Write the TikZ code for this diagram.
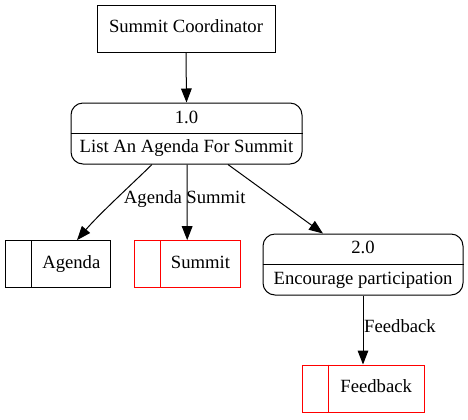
\documentclass[tikz,border=0pt]{standalone}
\usepackage{fontspec}
\setmainfont{Liberation Serif}
\usetikzlibrary{arrows.meta}
\begin{document}
\begin{tikzpicture}[x=0.75pt,y=-0.75pt,
  font=\fontsize{14}{16}\selectfont,
  ent/.style={draw, line width=0.75pt, minimum width=133.5pt, minimum height=35.25pt, inner sep=0pt},
  proc/.style={draw, rounded corners=9pt, line width=0.75pt, minimum height=45.75pt, inner sep=0pt},
  store/.style={draw, line width=0.75pt, minimum height=35.5pt, inner sep=0pt},
  flow/.style={-{Triangle[length=10.5pt,width=8pt]}, line width=0.75pt},
  lbl/.style={inner sep=0pt, text height=9.6pt, text depth=3pt}
]
\useasboundingbox (0,0) rectangle (468,419);

% external entity
\node[ent, text height=9.6pt, text depth=3pt] (coord) at (186,28.5) {Summit Coordinator};

% process 1.0
\node[proc, minimum width=173.25pt] (p1) at (186.5,133.5) {};
\draw[line width=0.75pt] (p1.west) -- (p1.east);
\node[lbl] (p1n) at (186.5,119) {1.0};
\node[lbl] (p1t) at (186.5,148.5) {List An Agenda For Summit};

% process 2.0
\node[proc, minimum width=150pt] (p2) at (363,264.5) {};
\draw[line width=0.75pt] (p2.west) -- (p2.east);
\node[lbl] (p2n) at (363,249) {2.0};
\node[lbl] (p2t) at (363,280) {Encourage participation};

% data stores
\node[store, minimum width=79.3pt] (agenda) at (58,264.3) {};
\draw[line width=0.75pt] ([xshift=19.8pt]agenda.north west) -- ([xshift=19.8pt]agenda.south west);
\node[lbl] (agendaT) at ([xshift=10pt]agenda.center) {Agenda};

\node[store, red, minimum width=79.3pt] (summit) at (187.2,264.3) {};
\draw[red, line width=0.75pt] ([xshift=20.25pt]summit.north west) -- ([xshift=20.25pt]summit.south west);
\node[lbl] (summitT) at ([xshift=10pt]summit.center) {Summit};

\node[store, red, minimum width=91pt, minimum height=35.25pt] (feed) at (363.5,388.5) {};
\draw[red, line width=0.75pt] ([xshift=19.7pt]feed.north west) -- ([xshift=19.7pt]feed.south west);
\node[lbl] (feedT) at ([xshift=9.5pt]feed.center) {Feedback};

% flows
\draw[flow] (coord.south) -- (p1.north);
\draw[flow] ([xshift=-25.9pt]p1.south) .. controls +(-14,14) and +(22,-26) .. ([xshift=14.25pt]agenda.north);
\draw[flow] ([xshift=0.4pt]p1.south) -- ([xshift=0pt]summit.north);
\draw[flow] ([xshift=31.1pt]p1.south) -- ([xshift=-30pt]p2.north);
\draw[flow] (p2.south) -- (feed.north -| p2.south);

% flow labels
\node[lbl] (lagenda) at (153,199) {Agenda};
\node[lbl] (lsummit) at (216,199) {Summit};
\node[lbl] (lfeed) at (400,328) {Feedback};
\end{tikzpicture}
\end{document}
